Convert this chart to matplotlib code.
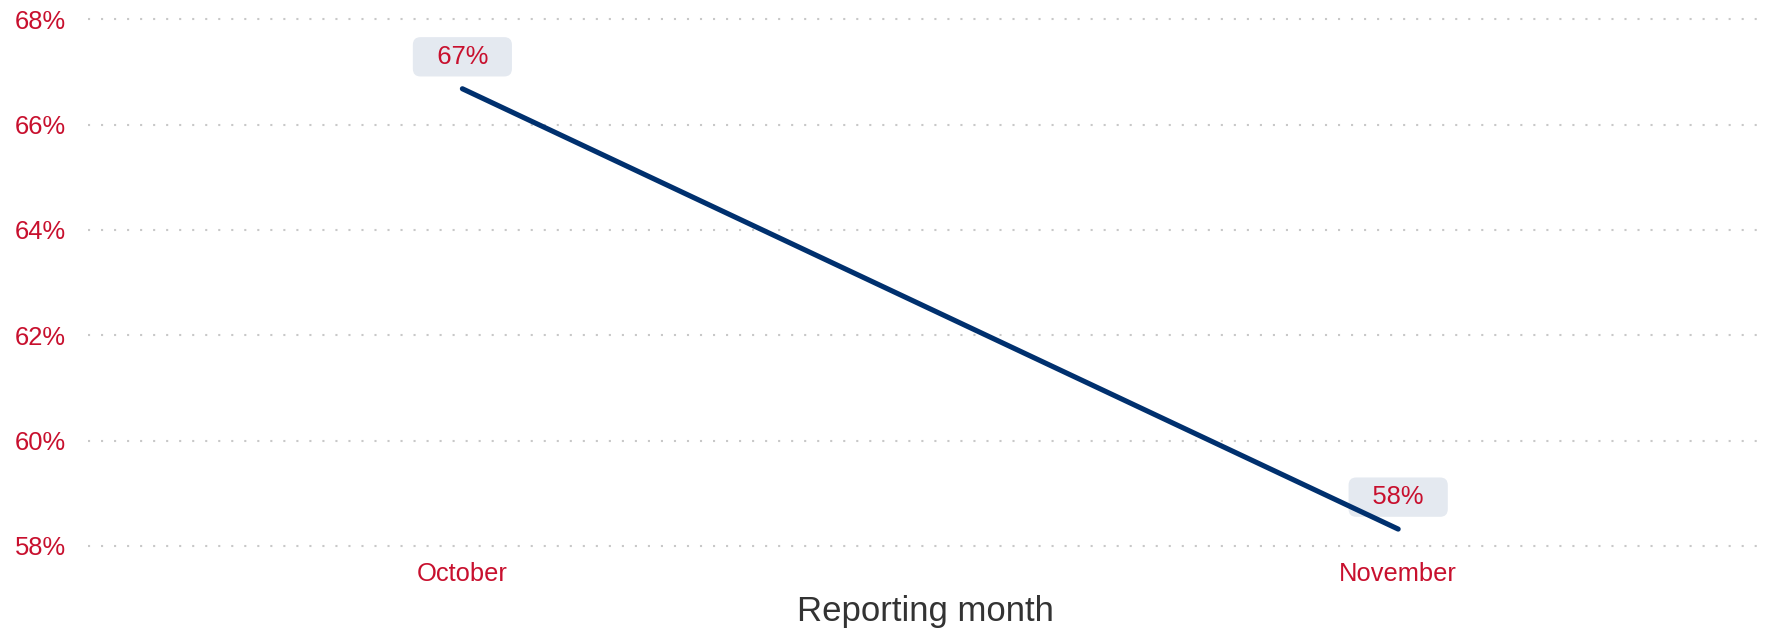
import matplotlib
matplotlib.use("Agg")
import matplotlib.pyplot as plt
from matplotlib.ticker import FuncFormatter

# data
months = ["October", "November"]
rates = [66.68, 58.32]
yticks = [58, 60, 62, 64, 66, 68]

plt.rcParams['font.family'] = ['Liberation Sans', 'DejaVu Sans']

red = "#c8102e"
navy = "#00306e"

fig = plt.figure(figsize=(17.72, 6.29), dpi=100)
ax = fig.add_axes([0.0497, 0.1153, 0.9453, 0.8667])

xs = list(range(len(months)))
ax.plot(xs, rates, color=navy, linewidth=3.7, solid_capstyle="round", zorder=4)

# value labels in a rounded grey box above each point (line sits over the box)
sp = "  \u200a"
for x, v in zip(xs, rates):
	ax.annotate(sp + "%d%%" % round(v) + sp, (x, v), xytext=(0, 23), textcoords="offset points",
				ha="center", va="center", fontsize=18.4, color=red, zorder=3,
				bbox=dict(boxstyle="round,pad=0.3,rounding_size=0.3", fc="#e4e9f0", ec="none"))

ax.set_xlim(-0.4, 1.39)
ax.set_ylim(57.8, 68.15)
ax.set_xticks(xs)
ax.set_xticklabels(months)
ax.set_yticks(yticks)
ax.yaxis.set_major_formatter(FuncFormatter(lambda v, p: "%d%%" % v))

ax.tick_params(axis="both", length=0, labelsize=18.4, labelcolor=red)
ax.tick_params(axis="y", pad=16)
ax.tick_params(axis="x", pad=4)

ax.grid(axis="y", color="#c8c8c8", linewidth=1.5, linestyle=(0, (1, 5.25)))
ax.grid(axis="x", visible=False)
for s in ax.spines.values():
	s.set_visible(False)

ax.set_xlabel("Reporting month", fontsize=25, color="#333333", labelpad=6.5)

fig.savefig("out.png", dpi=100)
